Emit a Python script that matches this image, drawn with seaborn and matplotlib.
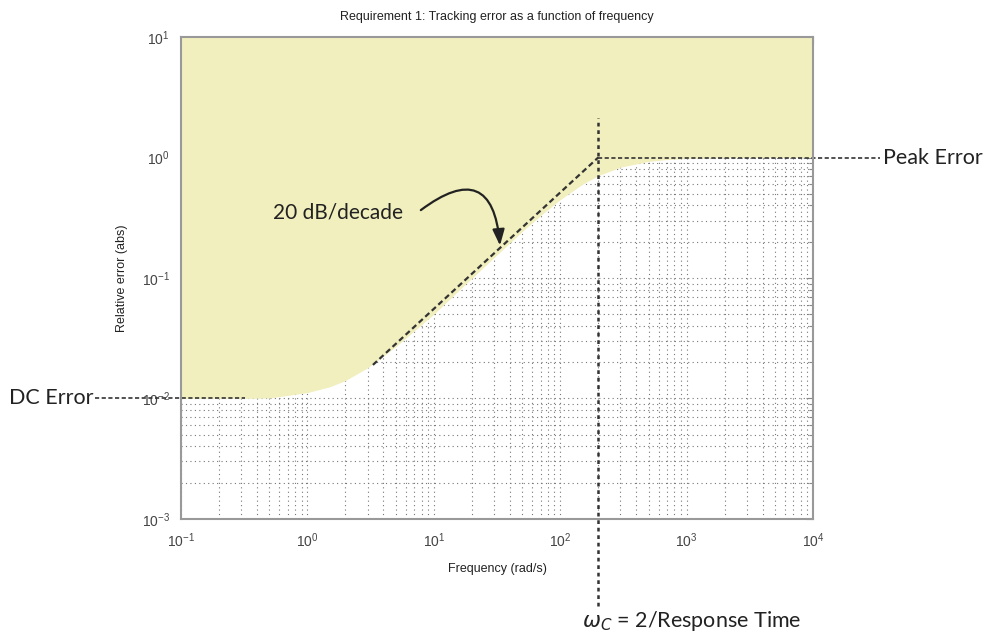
import numpy as np
import pandas as pd
import matplotlib
matplotlib.use("Agg")
import matplotlib.pyplot as plt
import seaborn as sns

# ---- data ----
freq = [0.1, 0.3, 0.5, 1, 1.5, 2, 3, 5, 7, 10, 15, 20, 30, 50, 70, 100,
        150, 200, 300, 500, 700, 1000, 2000, 5000, 10000]
max_err = [0.0100, 0.0100, 0.0101, 0.0112, 0.0125, 0.0141, 0.0180, 0.0269,
           0.0364, 0.0500, 0.0750, 0.0995, 0.148, 0.243, 0.330, 0.447,
           0.600, 0.707, 0.832, 0.928, 0.962, 0.981, 0.995, 0.999, 1.0]
slope_freq = [3.3, 200]
slope_err = [0.019, 1.0]
dc_error = 0.01
peak_error = 1.0
wc = 200
title = "Requirement 1: Tracking error as a function of frequency"
xlabel = "Frequency (rad/s)"
ylabel = "Relative error (abs)"

sns.set_theme(style="white")
plt.rcParams['font.family'] = ['Liberation Sans', 'DejaVu Sans']

fig = plt.figure(figsize=(9.89, 6.35), dpi=100)
ax = fig.add_axes([0.183, 0.1827, 0.639, 0.759])
ax.set_xscale("log")
ax.set_yscale("log")
ax.set_xlim(0.1, 1e4)
ax.set_ylim(1e-3, 10)

# grid below fill
ax.set_axisbelow(True)
ax.grid(True, which="both", linestyle=(0, (1, 3)), color="#777777", linewidth=0.8)

# shaded forbidden region
ax.fill_between(freq, max_err, 10, color="#F1EFBD", linewidth=0, zorder=1)

# 20 dB/decade asymptote
df_slope = pd.DataFrame({"f": slope_freq, "e": slope_err})
sns.lineplot(data=df_slope, x="f", y="e", ax=ax, color="#333333",
             linestyle=(0, (2.5, 1.5)), linewidth=1.6, zorder=3)

# peak error line (extends outside axes)
ax.plot([wc, 3.4e4], [peak_error, peak_error], color="#333333",
        linestyle=(0, (2.5, 1.5)), linewidth=1.2, clip_on=False, zorder=3)
# DC error line
ax.plot([0.0209, 0.32], [dc_error, dc_error], color="#333333",
        linestyle=(0, (2.5, 1.5)), linewidth=1.2, clip_on=False, zorder=3)
# crossover vertical line
ax.plot([wc, wc], [1.9e-4, 2.13], color="#333333",
        linestyle=(0, (1.5, 1.5)), linewidth=1.8, clip_on=False, zorder=3)

ann_font = ['Lato', 'DejaVu Sans']
ax.text(3.6e4, peak_error, "Peak Error", fontsize=15.5, family=ann_font,
        color="#222222", ha="left", va="center", clip_on=False)
ax.text(0.0203, dc_error, "DC Error", fontsize=15.5, family=ann_font,
        color="#222222", ha="right", va="center", clip_on=False)
ax.text(150, 1.42e-4, r"$\omega_C$ = 2/Response Time", fontsize=15.5,
        family=ann_font, color="#222222", ha="left", va="center", clip_on=False)
ax.text(0.535, 0.353, "20 dB/decade", fontsize=15, family=ann_font,
        color="#222222", ha="left", va="center")
ax.annotate("", xy=(33.4, 0.186), xytext=(7.9, 0.366),
            arrowprops=dict(arrowstyle="-|>,head_length=0.8,head_width=0.3",
                            color="#222222", linewidth=1.6,
                            connectionstyle="arc3,rad=-0.9",
                            shrinkA=0, shrinkB=0))

# axes styling
for s in ax.spines.values():
    s.set_color("#999999")
    s.set_linewidth(1.5)
    s.set_zorder(4)
ax.tick_params(which="both", direction="in", top=True, right=True,
               color="#888888", labelcolor="#444444", labelsize=10)
ax.tick_params(axis="x", which="major", pad=9)
ax.tick_params(axis="y", which="major", pad=8)
ax.tick_params(which="major", length=5, width=0.8)
ax.tick_params(which="minor", length=3, width=0.8)
ax.xaxis.set_minor_locator(matplotlib.ticker.LogLocator(base=10, subs=np.arange(2, 10), numticks=20))
ax.yaxis.set_minor_locator(matplotlib.ticker.LogLocator(base=10, subs=np.arange(2, 10), numticks=20))
ax.set_xticks([0.1, 1, 10, 100, 1000, 10000])
ax.set_yticks([1e-3, 1e-2, 1e-1, 1, 10])
ax.set_xlabel(xlabel, fontsize=9, color="#222222", labelpad=9)
ax.set_ylabel(ylabel, fontsize=9, color="#222222", labelpad=10)
ax.set_title(title, fontsize=9, color="#222222", pad=12)

fig.savefig("out.png", dpi=100)
